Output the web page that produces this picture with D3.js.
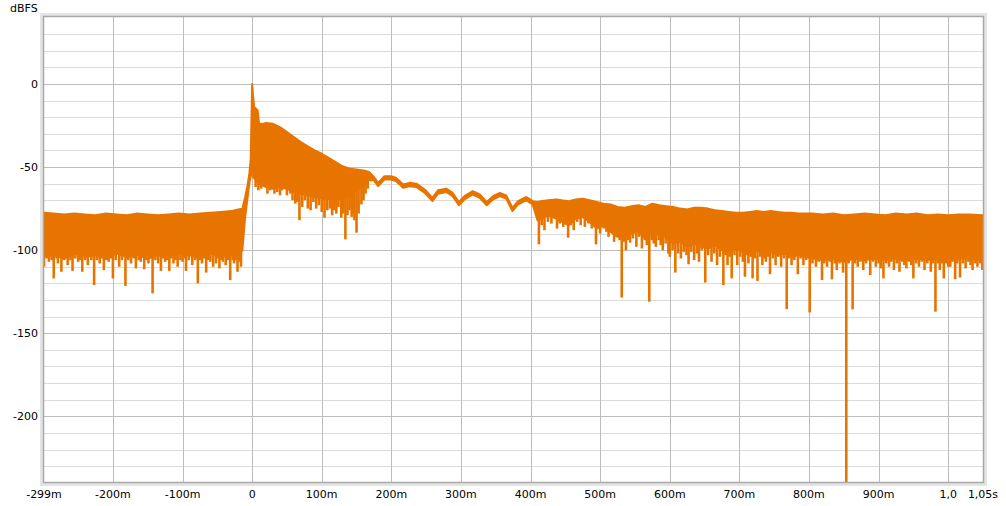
<!DOCTYPE html>
<html>
<head>
<meta charset="utf-8">
<script src="https://cdn.jsdelivr.net/npm/d3@7"></script>
<style>
  body { margin: 0; background: #fff; }
  text { font-family: "DejaVu Sans", sans-serif; font-size: 11px; fill: #000; }
</style>
</head>
<body>
<svg id="chart" width="1006" height="506"></svg>
<script>
// impulse response, dBFS vs time (ms)

// band of the trace: time, top and bottom of the noise band
const bandT = [-299, -285, -270, -255, -240, -225, -210, -195, -180, -165, -150, -135, -120, -105, -90, -75, -60, -45, -30, -20, -14,
  -10, -7, -4, -2, 0, 1.5, 3, 6, 8, 10, 15, 20, 30, 40, 50, 60, 70, 80, 90, 100, 110, 120, 130, 140, 150, 160, 168,
  175, 181, 190, 200, 207, 217, 226, 236, 248, 259, 267, 279, 288, 297, 305, 317, 327, 337, 346, 356, 365, 374, 382, 394, 403,
  410, 415, 425, 437, 445, 455, 465, 475, 485, 495, 505, 515, 525, 535, 545, 555, 565, 575, 585, 595, 605, 615, 625, 635, 645,
  655, 665, 675, 685, 695, 705, 715, 725, 735, 745, 755, 765, 775, 785, 795,
  805, 820, 835, 850, 865, 880, 895, 910, 925, 940, 955, 970, 985, 1000, 1015, 1030, 1050];
const bandHi = [-77.5, -78, -78.5, -78, -78.5, -79, -78, -78.5, -79, -78, -78.5, -79, -78.5, -78, -78.5, -78, -77.5, -77, -76.5, -75.5, -75,
  -68, -62, -54, -45, 0, -8, -14, -15, -16, -24, -24, -23.5, -24, -26, -29, -32, -35, -37.5, -40, -42, -44.5, -47, -49.5, -51, -51.5, -52, -53,
  -56, -59.5, -55.5, -55.5, -56.5, -60.5, -59.5, -60, -63.5, -68.5, -64, -63, -65.5, -71, -67.5, -64.5, -66.5, -71, -67.5, -65.5, -67, -74.5, -70.5, -68, -70.5,
  -71, -70.5, -70, -69.5, -70, -70.5, -69.5, -69, -70, -71, -72, -72.5, -74, -74.5, -73.5, -73, -74, -72, -73, -73.5, -74, -75, -75.5, -74.5, -74.5,
  -75, -76, -76.5, -77, -77.5, -77.5, -77, -76.5, -77, -76.5, -77, -77.5, -77.5, -78, -78,
  -78, -78.5, -78, -79, -78.5, -78, -78.5, -79, -78, -78.5, -78, -79, -78.5, -79, -78.5, -78.5, -79];
const bandLo = [-104, -103, -105, -102, -104, -103, -105, -102, -104, -103, -105, -103, -104, -102, -103, -105, -102, -104, -103, -102, -100,
  -80, -70, -60, -55, -55, -50, -56, -59, -58, -60, -61, -62, -63, -62, -63, -65, -66, -67, -68, -69, -69, -70, -69, -67, -64, -61, -58,
  -58, -61.5, -57.5, -57.5, -58.5, -62.5, -61.5, -62, -65.5, -70.5, -66, -65, -67.5, -73, -69.5, -66.5, -68.5, -73, -69.5, -67.5, -69, -76.5, -72.5, -70, -72.5,
  -82, -81, -79, -81, -83, -85, -81, -80, -83, -87, -85, -89, -92, -92, -90, -89, -93, -89, -91, -92, -96, -95, -98, -96, -98,
  -99, -97, -100, -101, -99, -101, -102, -100, -102, -101, -103, -102, -104, -103, -104,
  -105, -106, -105, -107, -105, -106, -105, -106, -105, -106, -105, -106, -105, -106, -105, -105, -106];

// downward spikes below the band
const dipT = [-299, -295, -292, -288, -285, -281, -279, -274, -270, -265, -261, -258, -254, -250, -247, -244, -240, -236, -231, -227,
  -223, -219, -216, -213, -209, -206, -203, -200, -196, -191, -187, -182, -178, -174, -170, -167, -163, -160, -155, -152,
  -149, -146, -143, -139, -135, -131, -128, -125, -122, -119, -116, -113, -110, -107, -103, -100, -97, -95, -91, -86,
  -82, -78, -75, -72, -69, -66, -63, -60, -56, -52, -49, -47, -44, -42, -38, -35, -31.5, -28, -26, -23, -21, -18, -16,
  2, 5, 9, 13, 18, 22, 26, 28, 32, 36, 40, 43, 46, 50, 55, 58, 62, 65, 68, 72, 76, 80, 84, 88, 92, 96, 100, 104, 108,
  112, 115, 118, 121, 124, 128, 131, 134, 137, 140, 143, 145, 147, 150, 153, 157, 160, 163, 166,
  412, 416, 420, 425, 430, 438, 442, 447, 454, 458, 462, 467, 472, 478, 483, 488, 494, 500, 505, 509, 512, 516, 520, 524, 528,
  531, 534, 537, 540, 543, 547, 552, 556, 560, 564, 567, 570.6, 574, 577, 580, 584, 587, 590, 594, 598,
  600, 604, 608, 612, 616, 620, 624, 627, 631, 635, 639, 642, 646, 651, 655, 660, 664, 668, 672, 677, 680, 683, 686, 689,
  693, 697, 701, 705, 708, 711, 713, 716, 719, 722, 726, 730, 733, 736, 738, 741, 744, 748, 752, 756, 760, 764, 768, 771,
  775, 779, 784, 788, 792, 796,
  801, 805, 810, 814, 818.7, 822, 826, 830, 833, 837, 840, 844, 849, 853.6, 857, 862.7, 866, 870, 874, 878, 882, 888, 892,
  896, 900, 903, 907, 911, 915, 918, 922, 926, 930, 934, 937, 940, 944, 947, 950, 954, 958, 962, 966, 970, 975, 978, 981.7,
  985, 988, 991, 993.7, 997, 1000, 1003, 1006, 1010, 1013, 1017, 1021, 1025, 1029, 1032, 1035, 1039, 1042, 1046, 1049];
const dipDb = [-110, -105, -107, -106, -117, -105, -108, -113, -106, -109, -106, -112.5, -105, -107, -106, -113, -106, -109, -106, -121,
  -106, -108, -105, -112, -106, -107, -105, -117, -106, -110, -106, -121.5, -106, -108, -105, -111, -106, -107, -111.5, -106,
  -108, -105, -126, -106, -108, -112.5, -105, -107, -106, -112.5, -105, -108, -106, -110, -106, -107, -105, -112.5, -106, -109,
  -106, -120, -106, -108, -105, -113.5, -106, -107, -110, -108, -105, -111, -106, -107, -109, -106, -118, -106, -108, -106, -113, -107, -110,
  -57, -62, -64, -63, -62, -66, -64, -63, -66, -65, -67, -64, -63, -67, -66, -70, -72, -71, -82, -74, -70, -75, -76, -71, -75, -73, -77, -80.5, -76,
  -75, -79, -76, -78, -74, -80.5, -78, -93.5, -79, -76, -80, -78, -82, -89.5, -78, -72.5, -70, -66, -63,
  -96.5, -85, -88, -83, -84, -87, -84, -86, -92.5, -85, -88, -83, -85, -86, -84, -87, -96.5, -90, -87, -89, -92, -89, -95, -92, -94,
  -128.5, -95, -100, -94, -95.5, -93, -98, -92, -99, -94, -97, -131, -94, -96, -98, -94, -97, -100, -96, -102,
  -104, -100, -113.5, -102, -105, -101, -103, -108.5, -101, -106, -102, -107, -100, -119.5, -103, -107, -102, -109, -104, -121, -103, -109, -104, -117,
  -103, -109, -104, -107, -116, -103, -108, -104, -117, -105, -118.5, -104, -109, -105, -107, -104, -114.5, -105, -109, -104, -110, -105, -135.5, -105,
  -109, -106, -114.5, -105, -109, -106,
  -137.5, -108, -110, -107, -118, -108, -110, -107, -117.6, -108, -112, -108, -113.5, -245, -108, -135.6, -108, -110, -107, -112, -108, -115, -107,
  -110, -108, -111, -117, -108, -110, -107, -112, -108, -113, -107, -109, -111, -107, -109, -117, -108, -110, -107, -112, -108, -113, -108, -137,
  -108, -112, -108, -117, -108, -110, -110, -107, -117.5, -108, -116.5, -108, -111, -107, -109, -112, -108, -110, -108, -112];

const yTicks = [0, -50, -100, -150, -200];
const xTicks = [-299, -200, -100, 0, 100, 200, 300, 400, 500, 600, 700, 800, 900, 1000, 1050];
const xLabels = ["-299m", "-200m", "-100m", "0", "100m", "200m", "300m", "400m", "500m", "600m", "700m", "800m", "900m", "1,0", "1,05s"];

const pLeft = 44, pRight = 983, pTop = 17, pBottom = 482;
const orange = "#e87400";

const svg = d3.select("#chart");
const x = d3.scaleLinear().domain([-299, 1050]).range([pLeft, pRight]);
const y = d3.scaleLinear().domain([-239.5, 40.3]).range([pBottom, pTop]);

// frame shadow
svg.append("rect").attr("x", pLeft - 2).attr("y", pTop - 2).attr("width", pRight - pLeft + 4).attr("height", pBottom - pTop + 4)
  .attr("fill", "none").attr("stroke", "#e4e4e4").attr("stroke-width", 4);
svg.append("rect").attr("x", pLeft).attr("y", pTop).attr("width", pRight - pLeft).attr("height", pBottom - pTop)
  .attr("fill", "#fff");

// grid
const grid = svg.append("g");
grid.selectAll(".minor").data(d3.range(30, -240, -10).filter(d => d % 50 != 0)).enter().append("line")
  .attr("x1", pLeft).attr("x2", pRight).attr("y1", d => Math.round(y(d)) + 0.5).attr("y2", d => Math.round(y(d)) + 0.5)
  .attr("stroke", "#dcdcdc");
grid.selectAll(".major").data(yTicks).enter().append("line")
  .attr("x1", pLeft).attr("x2", pRight).attr("y1", d => Math.round(y(d)) + 0.5).attr("y2", d => Math.round(y(d)) + 0.5)
  .attr("stroke", "#bdbdbd");
grid.selectAll(".vx").data(xTicks.slice(1, -1)).enter().append("line")
  .attr("y1", pTop).attr("y2", pBottom).attr("x1", d => Math.round(x(d)) + 0.5).attr("x2", d => Math.round(x(d)) + 0.5)
  .attr("stroke", "#bdbdbd");

// trace
svg.append("clipPath").attr("id", "plotclip").append("rect")
  .attr("x", pLeft).attr("y", pTop).attr("width", pRight - pLeft).attr("height", pBottom - pTop);
const plot = svg.append("g").attr("clip-path", "url(#plotclip)");

const band = bandT.map((t, i) => ({ t: t, hi: bandHi[i], lo: bandLo[i] }));
const area = d3.area().x(d => x(d.t)).y0(d => y(d.lo)).y1(d => y(d.hi));
plot.append("path").datum(band).attr("d", area)
  .attr("fill", orange).attr("stroke", orange).attr("stroke-width", 2).attr("stroke-linejoin", "round");

const loAt = d3.scaleLinear().domain(bandT).range(bandLo);
plot.selectAll(".dip").data(dipT).enter().append("line")
  .attr("x1", d => x(d)).attr("x2", d => x(d))
  .attr("y1", d => y(loAt(d) + 3)).attr("y2", (d, i) => y(dipDb[i]))
  .attr("stroke", orange).attr("stroke-width", 2.6);

// frame
svg.append("rect").attr("x", pLeft - 0.5).attr("y", pTop - 0.5).attr("width", pRight - pLeft + 1).attr("height", pBottom - pTop + 1)
  .attr("fill", "none").attr("stroke", "#a8a8a8").attr("stroke-width", 1.5);

// labels
svg.append("text").attr("x", 10).attr("y", 12).text("dBFS");
svg.selectAll(".yl").data(yTicks).enter().append("text")
  .attr("x", 38).attr("y", d => y(d) + 4).attr("text-anchor", "end").text(d => d);
svg.selectAll(".xl").data(xTicks).enter().append("text")
  .attr("x", d => x(d)).attr("y", 498).attr("text-anchor", "middle").text((d, i) => xLabels[i]);
</script>
</body>
</html>
